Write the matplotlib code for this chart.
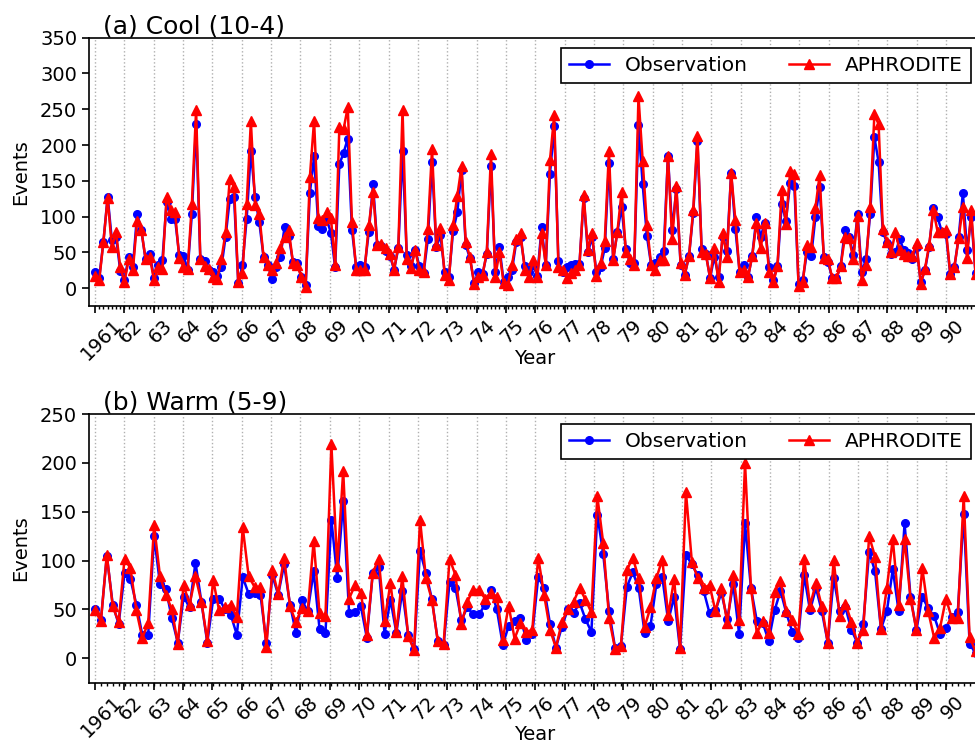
import numpy as np
import matplotlib
matplotlib.use('Agg')
import matplotlib.pyplot as plt
from matplotlib.ticker import FixedLocator
import matplotlib.transforms as mtrans

years = list(range(1961, 1992))
year_labels = ['1961'] + ['%02d' % (y % 100) for y in years[1:-1]] + ['']

# Cool season (Oct-Apr), 7 values per year
cool_obs = [
    22, 14, 65, 128, 67, 72, 24,
    12, 44, 30, 104, 81, 40, 48,
    14, 33, 39, 121, 97, 97, 46,
    45, 26, 104, 230, 40, 38, 26,
    23, 17, 29, 72, 125, 128, 7,
    32, 97, 192, 127, 92, 44, 33,
    13, 30, 43, 86, 73, 36, 35,
    16, 4, 133, 184, 87, 82, 96,
    77, 29, 173, 189, 209, 81, 29,
    33, 29, 79, 145, 60, 59, 52,
    45, 26, 56, 192, 46, 31, 53,
    31, 21, 68, 176, 57, 74, 22,
    15, 80, 106, 165, 60, 42, 7,
    22, 20, 48, 171, 23, 57, 9,
    16, 26, 65, 71, 31, 23, 32,
    17, 85, 32, 160, 226, 38, 22,
    29, 33, 34, 34, 126, 50, 71,
    23, 29, 56, 175, 40, 79, 113,
    54, 35, 35, 228, 145, 73, 33,
    35, 43, 52, 185, 81, 138, 33,
    19, 45, 105, 205, 54, 48, 14,
    44, 16, 72, 52, 161, 83, 23,
    32, 15, 45, 99, 72, 91, 29,
    11, 31, 118, 94, 147, 143, 6,
    12, 50, 45, 99, 141, 44, 36,
    14, 14, 31, 81, 72, 46, 103,
    22, 40, 104, 211, 176, 79, 63,
    48, 50, 68, 53, 49, 40, 58,
    8, 25, 58, 112, 99, 79, 75,
    20, 30, 71, 133, 53, 99, 21,
]
cool_aph = [
    17, 11, 65, 126, 57, 78, 29,
    9, 40, 26, 94, 81, 41, 44,
    11, 29, 27, 128, 109, 106, 42,
    30, 27, 118, 249, 41, 31, 27,
    16, 13, 40, 78, 153, 142, 8,
    21, 118, 233, 116, 103, 44, 33,
    26, 35, 56, 71, 81, 35, 32,
    15, 1, 155, 234, 98, 95, 106,
    98, 32, 225, 222, 253, 92, 26,
    26, 26, 88, 135, 60, 62, 56,
    48, 26, 58, 249, 40, 28, 53,
    26, 23, 82, 194, 60, 84, 19,
    12, 88, 129, 170, 65, 43, 6,
    16, 19, 50, 188, 16, 50, 7,
    5, 33, 68, 77, 26, 16, 39,
    16, 77, 33, 179, 242, 30, 26,
    14, 21, 26, 33, 130, 53, 77,
    17, 35, 66, 192, 39, 79, 135,
    51, 40, 33, 268, 178, 88, 33,
    26, 39, 39, 185, 68, 143, 35,
    19, 45, 109, 213, 51, 47, 14,
    56, 8, 77, 44, 161, 95, 22,
    26, 15, 45, 91, 56, 91, 23,
    8, 31, 137, 90, 163, 159, 3,
    8, 60, 58, 112, 158, 42, 40,
    14, 14, 31, 71, 70, 40, 101,
    11, 33, 113, 243, 229, 83, 65,
    51, 78, 53, 47, 45, 45, 63,
    6, 27, 60, 109, 79, 79, 81,
    20, 30, 70, 114, 42, 109, 20,
]

# Warm season (May-Sep), 5 values per year
warm_obs = [
    50, 39, 105, 55, 35,
    87, 81, 55, 24, 24,
    125, 76, 71, 41, 16,
    63, 52, 98, 58, 16,
    61, 61, 50, 44, 24,
    83, 66, 67, 65, 16,
    85, 65, 96, 55, 26,
    60, 48, 89, 30, 26,
    142, 82, 161, 46, 47,
    53, 21, 87, 93, 25,
    60, 26, 69, 24, 9,
    110, 87, 61, 18, 14,
    78, 72, 39, 52, 45,
    45, 55, 70, 50, 14,
    33, 38, 41, 19, 25,
    83, 72, 35, 11, 32,
    50, 46, 57, 40, 27,
    147, 107, 48, 11, 13,
    73, 88, 72, 26, 33,
    76, 83, 38, 63, 9,
    106, 96, 85, 69, 46,
    49, 67, 40, 76, 25,
    138, 72, 38, 36, 18,
    49, 69, 46, 27, 21,
    85, 49, 72, 48, 16,
    82, 48, 52, 29, 16,
    35, 109, 89, 30, 48,
    91, 48, 138, 63, 29,
    63, 51, 43, 25, 31,
    42, 47, 148, 15, 5,
]
warm_aph = [
    49, 38, 106, 53, 37,
    102, 92, 49, 21, 36,
    136, 84, 65, 50, 15,
    75, 55, 84, 58, 18,
    80, 49, 52, 55, 42,
    134, 84, 73, 73, 12,
    90, 66, 103, 53, 37,
    51, 48, 120, 46, 43,
    219, 94, 192, 61, 75,
    67, 24, 87, 102, 38,
    77, 27, 84, 23, 8,
    142, 82, 60, 18, 15,
    102, 85, 35, 58, 70,
    70, 61, 67, 63, 19,
    54, 20, 36, 27, 29,
    103, 65, 29, 11, 37,
    50, 58, 72, 60, 47,
    166, 118, 41, 10, 13,
    90, 103, 82, 32, 52,
    82, 101, 44, 81, 11,
    170, 99, 82, 72, 75,
    48, 72, 36, 85, 39,
    200, 72, 26, 38, 26,
    68, 79, 48, 39, 25,
    102, 54, 77, 53, 16,
    101, 43, 56, 37, 16,
    29, 125, 104, 30, 72,
    122, 55, 122, 61, 29,
    92, 48, 21, 31, 61,
    41, 41, 166, 22, 7,
]

W, H = 975.0, 744.0
fig = plt.figure(figsize=(W / 100, H / 100), dpi=100)

panels = [
    dict(obs=cool_obs, aph=cool_aph, ylim=(-25, 350), yticks=np.arange(0, 351, 50),
         title='(a) Cool (10-4)', top=37.7, bottom=306.0, xlab_base=364.0),
    dict(obs=warm_obs, aph=warm_aph, ylim=(-25, 250), yticks=np.arange(0, 251, 50),
         title='(b) Warm (5-9)', top=414.0, bottom=682.7, xlab_base=739.5),
]

left_px, right_px, x0_px, pxyear = 89.0, 981.0, 95.0, 29.35
for p in panels:
    hpx = p['bottom'] - p['top']
    ax = fig.add_axes([left_px / W, 1 - p['bottom'] / H, (right_px - left_px) / W, hpx / H])
    n = len(p['obs'])
    # points evenly spread so that the last one lands on the 1991 tick
    x = 1961 + np.arange(n) * 30.0 / (n - 1)
    ax.plot(x, p['obs'], color='#0000ff', marker='o', ms=5.5, lw=1.8, label='Observation')
    ax.plot(x, p['aph'], color='#ff0000', marker='^', ms=6.5, lw=1.8, label='APHRODITE')
    ax.set_xlim(1961 - (x0_px - left_px) / pxyear, 1961 + (right_px - x0_px) / pxyear)
    ax.set_ylim(*p['ylim'])
    ax.set_yticks(p['yticks'])
    ax.set_xticks(years)
    ax.set_xticklabels(year_labels, rotation=45, fontsize=14)
    major = set(np.round(years, 6))
    minor = [v for v in x if round(v, 6) not in major]
    ax.xaxis.set_minor_locator(FixedLocator(minor))
    ax.grid(axis='x', which='major', linestyle=':', color='#b0b0b0', lw=1.0)
    ax.tick_params(axis='y', labelsize=14, length=5, width=1.2)
    ax.tick_params(axis='x', which='major', length=5, width=1.2, pad=2)
    ax.tick_params(axis='x', which='minor', length=2.5, width=1.0)
    for s in ax.spines.values():
        s.set_linewidth(1.2)
    ax.set_xlabel('Year', fontsize=14, va='baseline')
    ax.xaxis.set_label_coords(0.5, -(p['xlab_base'] - p['bottom']) / hpx)
    ax.set_ylabel('Events', fontsize=14, labelpad=7.5)
    ax.text(0.0157, 1.0164, p['title'], transform=ax.transAxes, fontsize=18, va='baseline')
    leg = ax.legend(loc='upper right', ncol=2, fontsize=14.5, fancybox=False,
                    edgecolor='black', framealpha=1)
    leg.get_frame().set_linewidth(1.2)
    off = mtrans.ScaledTranslation(6.5 / 100, 0, fig.dpi_scale_trans)
    for lab in ax.get_xticklabels():
        lab.set_transform(lab.get_transform() + off)

fig.savefig('out.png', dpi=100)
